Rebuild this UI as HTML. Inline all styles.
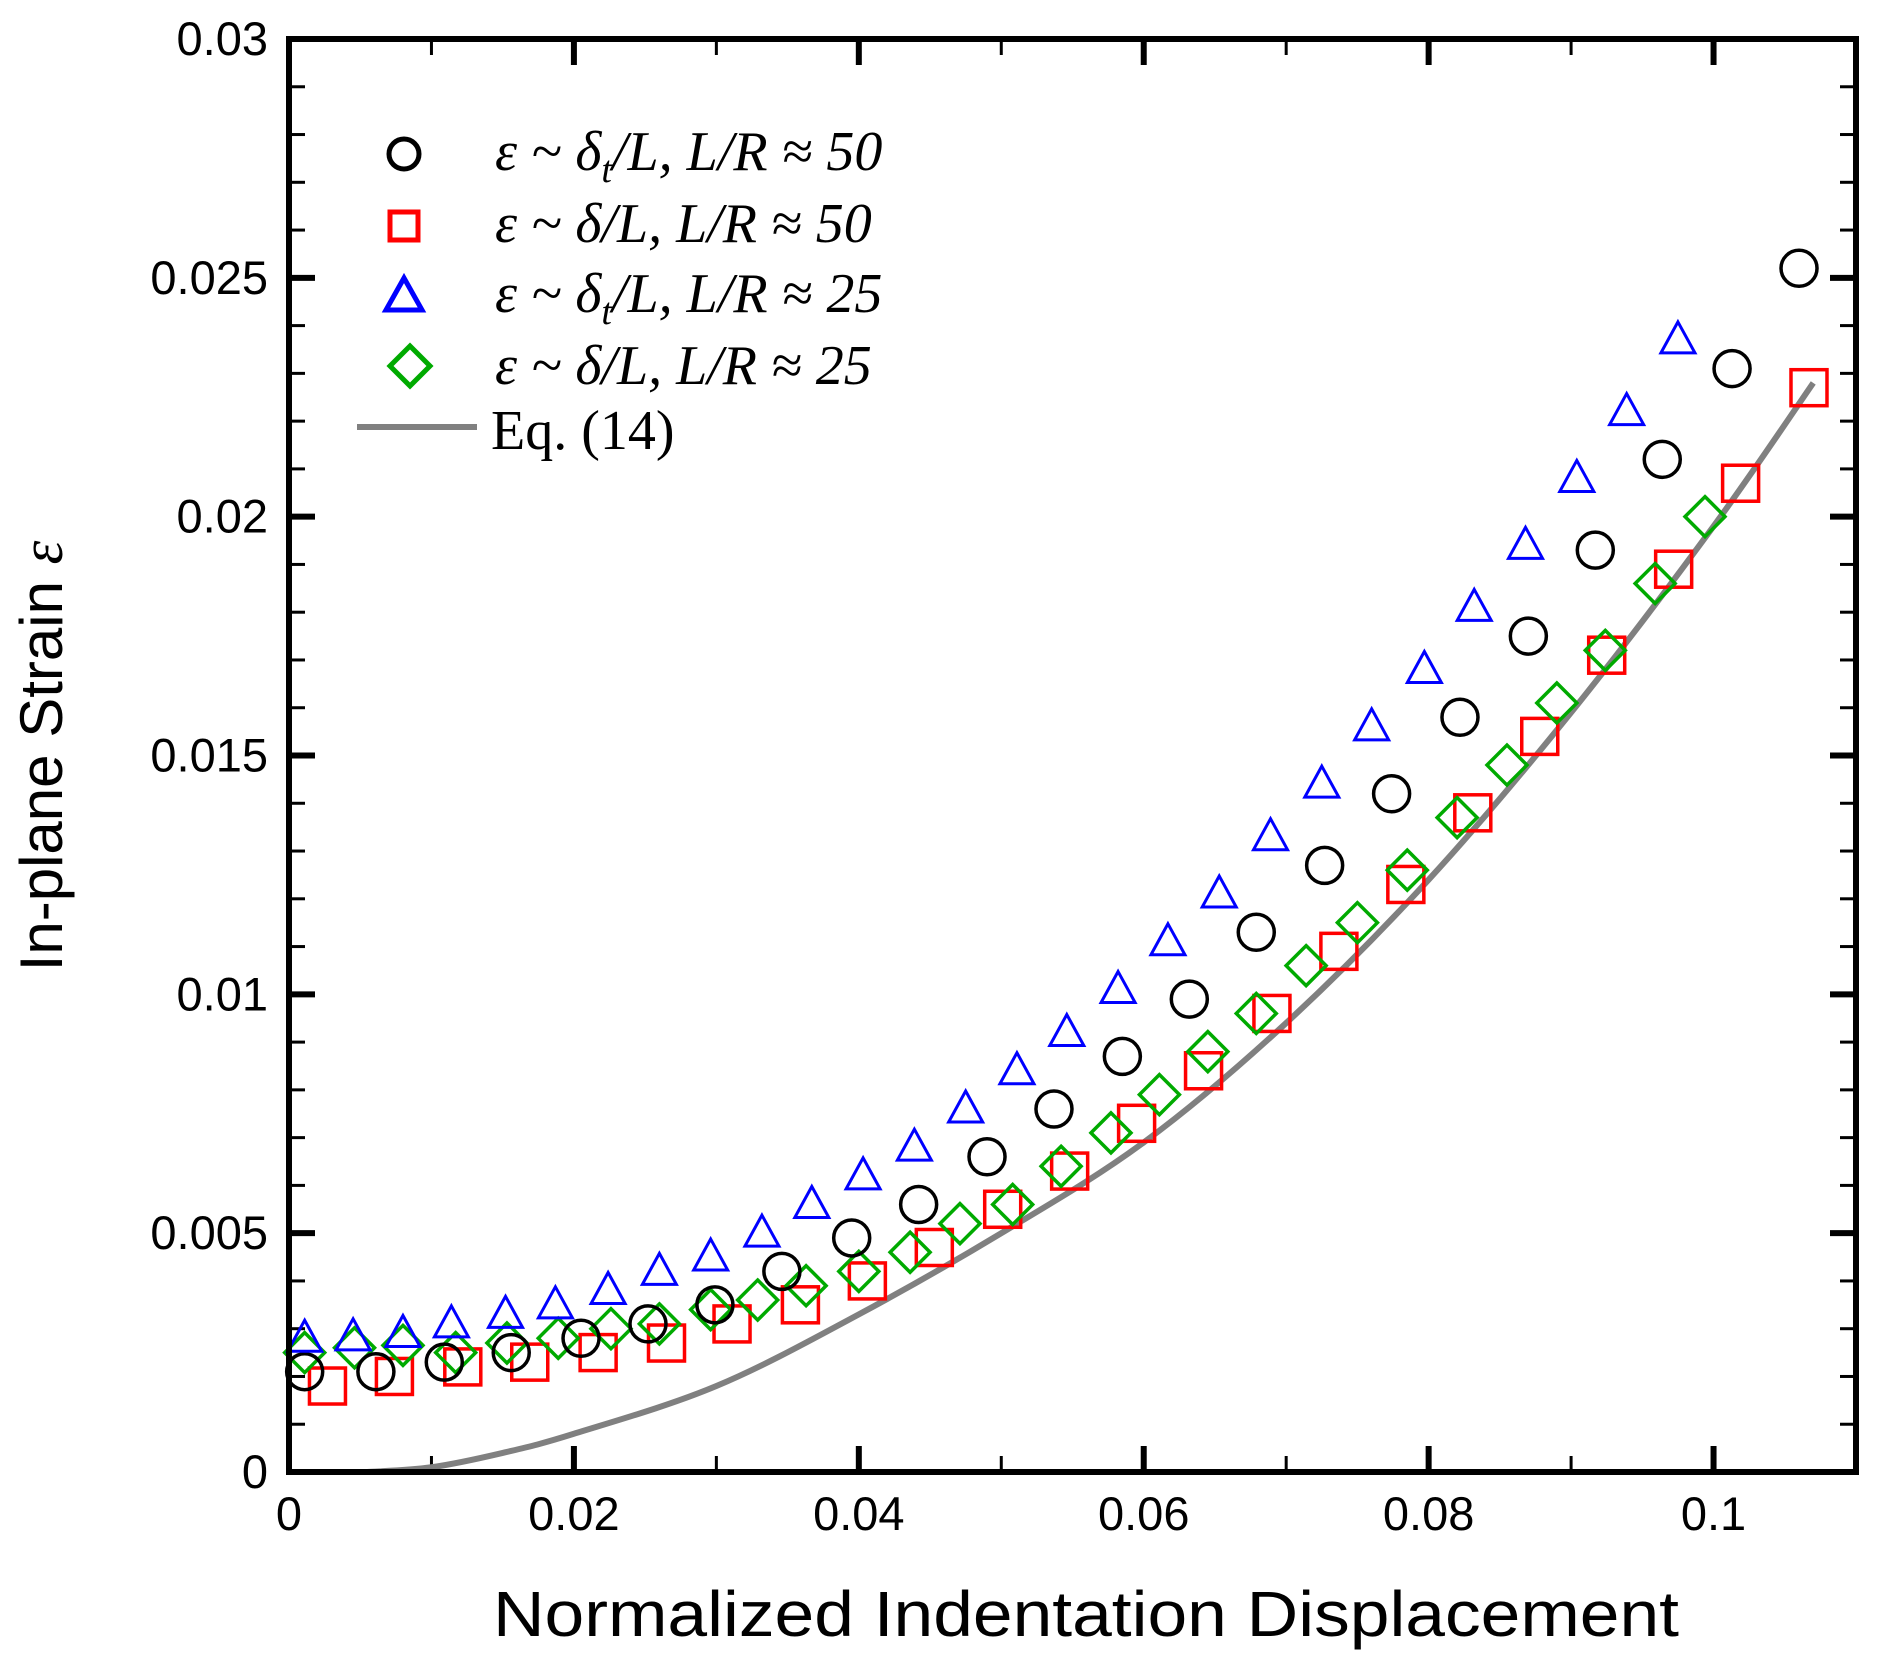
<!DOCTYPE html>
<html><head><meta charset="utf-8"><style>
html,body{margin:0;padding:0;background:#fff;}
svg{display:block;}
</style></head><body>
<svg id="chart" width="1893" height="1670" viewBox="0 0 1893 1670" xmlns="http://www.w3.org/2000/svg">
<g id="ticks"></g>
<g id="marks"></g>
<rect x="289" y="39" width="1567" height="1433" fill="none" stroke="#000" stroke-width="6"/>
<text x="1086" y="1636" text-anchor="middle" font-family="Liberation Sans, sans-serif" font-size="64" textLength="1186" lengthAdjust="spacingAndGlyphs">Normalized Indentation Displacement</text>
<text transform="translate(62,756) rotate(-90)" text-anchor="middle" font-family="Liberation Sans, sans-serif" font-size="60">In-plane Strain <tspan font-family="Liberation Serif, serif" font-style="italic">ε</tspan></text>
<g font-family="Liberation Serif, serif" font-style="italic" font-size="56">
 <circle cx="404" cy="154" r="15" fill="none" stroke="#000" stroke-width="5"/>
 <text x="495" y="170">ε ~ δ<tspan font-size="38" dy="12">t</tspan><tspan dy="-12">/L, L/R ≈ 50</tspan></text>
 <rect x="390" y="212" width="28" height="28" fill="none" stroke="#f00" stroke-width="5"/>
 <text x="495" y="242">ε ~ δ/L, L/R ≈ 50</text>
 <path d="M404,278 L422,310 L386,310 Z" fill="none" stroke="#00f" stroke-width="5"/>
 <text x="495" y="312">ε ~ δ<tspan font-size="38" dy="12">t</tspan><tspan dy="-12">/L, L/R ≈ 25</tspan></text>
 <path d="M410,346 L430,366 L410,386 L390,366 Z" fill="none" stroke="#0a0" stroke-width="5"/>
 <text x="495" y="384">ε ~ δ/L, L/R ≈ 25</text>
 <line x1="357" y1="427" x2="477" y2="427" stroke="#808080" stroke-width="6"/>
 <text x="491" y="449" font-style="normal">Eq. (14)</text>
</g>
</svg>
<script>
const xTicks=[0,0.02,0.04,0.06,0.08,0.1];
const xTickLabels=["0","0.02","0.04","0.06","0.08","0.1"];
const yTicks=[0,0.005,0.01,0.015,0.02,0.025,0.03];
const yTickLabels=["0","0.005","0.01","0.015","0.02","0.025","0.03"];
const circX=[0.0011,0.0061,0.0109,0.0156,0.0205,0.0252,0.0299,0.0346,0.0395,0.0442,0.0490,0.0537,0.0585,0.0632,0.0679,0.0727,0.0774,0.0822,0.0870,0.0917,0.0964,0.1013,0.1060];
const circY=[0.0021,0.0021,0.0023,0.0025,0.0028,0.0031,0.0035,0.0042,0.0049,0.0056,0.0066,0.0076,0.0087,0.0099,0.0113,0.0127,0.0142,0.0158,0.0175,0.0193,0.0212,0.0231,0.0252];
const sqX=[0.0027,0.0074,0.0122,0.0169,0.0217,0.0265,0.0311,0.0359,0.0406,0.0453,0.0501,0.0548,0.0595,0.0642,0.0690,0.0737,0.0784,0.0831,0.0878,0.0925,0.0972,0.1019,0.1067];
const sqY=[0.0018,0.0020,0.0022,0.0023,0.0025,0.0027,0.0031,0.0035,0.0040,0.0047,0.0055,0.0063,0.0073,0.0084,0.0096,0.0109,0.0123,0.0138,0.0154,0.0171,0.0189,0.0207,0.0227];
const triX=[0.0011,0.0045,0.0080,0.0114,0.0152,0.0187,0.0224,0.0260,0.0296,0.0332,0.0367,0.0403,0.0439,0.0475,0.0511,0.0546,0.0582,0.0617,0.0653,0.0689,0.0725,0.0760,0.0797,0.0832,0.0868,0.0904,0.0939,0.0975];
const triY=[0.0028,0.00283,0.0029,0.0031,0.0033,0.0035,0.0038,0.0042,0.0045,0.0050,0.0056,0.0062,0.0068,0.0076,0.0084,0.0092,0.0101,0.0111,0.0121,0.0133,0.0144,0.0156,0.0168,0.0181,0.0194,0.0208,0.0222,0.0237];
const diaX=[0.0011,0.0046,0.0080,0.0117,0.0153,0.0189,0.0226,0.0260,0.0296,0.0329,0.0363,0.0400,0.0436,0.0471,0.0508,0.0542,0.0577,0.0611,0.0645,0.0679,0.0714,0.0750,0.0785,0.0820,0.0855,0.0890,0.0924,0.0959,0.0994];
const diaY=[0.0025,0.0026,0.00265,0.0025,0.0027,0.0028,0.0030,0.0031,0.0034,0.0036,0.0039,0.0042,0.0046,0.0052,0.0056,0.0064,0.0071,0.0079,0.0088,0.0096,0.0106,0.0115,0.0126,0.0137,0.0148,0.0161,0.0172,0.0186,0.0200];
const eqX=[0.0055,0.01,0.015,0.02,0.03,0.04,0.05,0.06,0.07,0.08,0.09,0.1,0.107];
const eqY=[0,0.0001,0.0004,0.0008,0.0018,0.0033,0.0050,0.0069,0.0094,0.0124,0.0159,0.0198,0.0228];

const X0=289,X1=1856,Y0=1472,Y1=39;
const XMAX=0.11,YMAX=0.03;
function sx(v){return X0+v/XMAX*(X1-X0);}
function sy(v){return Y0-v/YMAX*(Y0-Y1);}
const NS="http://www.w3.org/2000/svg";
function mk(tag,attrs,parent){const e=document.createElementNS(NS,tag);for(const k in attrs)e.setAttribute(k,attrs[k]);parent.appendChild(e);return e;}
const tg=document.getElementById('ticks'),mg=document.getElementById('marks');
for(let i=0;i<=11;i++){
  const v=i*0.01,x=sx(v),L=(i%2===0)?26:16,w=(i%2===0)?6:3;
  const a=mk('line',{x1:x,y1:Y0,x2:x,y2:Y0-L,stroke:'#000','stroke-width':w},tg);
  
  
  const b=mk('line',{x1:x,y1:Y1,x2:x,y2:Y1+L,stroke:'#000','stroke-width':w},tg);
  
  
}
xTicks.forEach((v,i)=>{
  const t=mk('text',{x:sx(v),y:1530,'text-anchor':'middle','font-family':'Liberation Sans, sans-serif','font-size':47},tg);
  t.textContent=xTickLabels[i];
  
  
});
for(let i=0;i<=30;i++){
  const v=i*0.001,y=sy(v),L=(i%5===0)?26:16,w=(i%5===0)?6:3;
  const a=mk('line',{x1:X0,y1:y,x2:X0+L,y2:y,stroke:'#000','stroke-width':w},tg);
  
  
  const b=mk('line',{x1:X1,y1:y,x2:X1-L,y2:y,stroke:'#000','stroke-width':w},tg);
  
  
}
yTicks.forEach((v,i)=>{
  const t=mk('text',{x:268,y:sy(v)+16,'text-anchor':'end','font-family':'Liberation Sans, sans-serif','font-size':47},tg);
  t.textContent=yTickLabels[i];
  
  
});
// smooth curve (Catmull-Rom)
const P=eqX.map((v,i)=>[sx(v),sy(eqY[i])]);
let d='M'+P[0][0]+','+P[0][1];
for(let i=0;i<P.length-1;i++){
  const p0=P[Math.max(0,i-1)],p1=P[i],p2=P[i+1],p3=P[Math.min(P.length-1,i+2)];
  const c1=[p1[0]+(p2[0]-p0[0])/6,p1[1]+(p2[1]-p0[1])/6];
  const c2=[p2[0]-(p3[0]-p1[0])/6,p2[1]-(p3[1]-p1[1])/6];
  d+=` C${c1[0]},${c1[1]} ${c2[0]},${c2[1]} ${p2[0]},${p2[1]}`;
}
const pl=mk('path',{d:d,fill:'none',stroke:'#808080','stroke-width':6,'stroke-linejoin':'round'},mg);


sqX.forEach((v,i)=>{const x=sx(v),y=sy(sqY[i]);
  const e=mk('rect',{x:x-18,y:y-18,width:36,height:36,fill:'none',stroke:'#f00','stroke-width':3.5},mg);
  
  });
diaX.forEach((v,i)=>{const x=sx(v),y=sy(diaY[i]);
  const e=mk('path',{d:`M${x},${y-20} L${x+20},${y} L${x},${y+20} L${x-20},${y} Z`,fill:'none',stroke:'#0a0','stroke-width':3.5},mg);
  
  });
circX.forEach((v,i)=>{const x=sx(v),y=sy(circY[i]);
  const e=mk('circle',{cx:x,cy:y,r:18,fill:'none',stroke:'#000','stroke-width':3.5},mg);
  
  });
triX.forEach((v,i)=>{const x=sx(v),y=sy(triY[i]);
  const e=mk('path',{d:`M${x},${y-18} L${x+17},${y+13} L${x-17},${y+13} Z`,fill:'none',stroke:'#00f','stroke-width':3},mg);
  
  });
</script>
</body></html>
